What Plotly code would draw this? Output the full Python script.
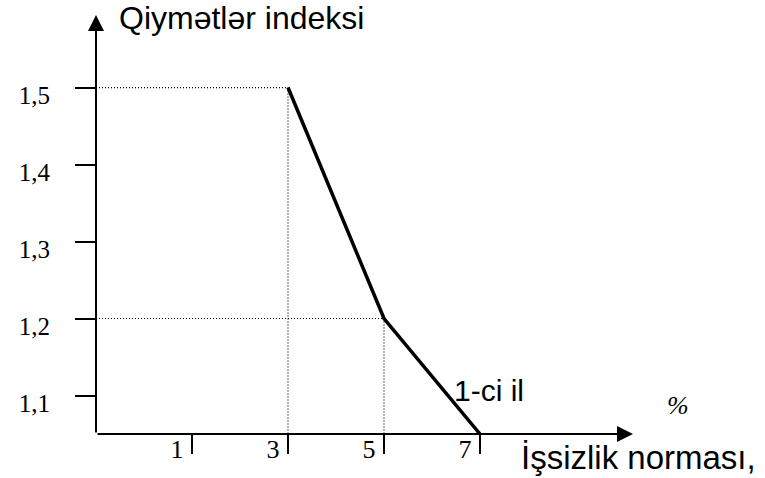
import plotly.graph_objects as go

# Phillips-type curve: price index vs unemployment rate, first year
unemployment = [3, 5, 7]          # %
price_index = [1.5, 1.2, 1.05]
curve_label = "1-ci il"

x_ticks = [1, 3, 5, 7]
y_ticks = [1.1, 1.2, 1.3, 1.4, 1.5]
y_tick_text = ["1,1", "1,2", "1,3", "1,4", "1,5"]

x_range = [-1, 10.1875]
y_range = [1.05, 1.5942]

SERIF = "Liberation Serif, Times New Roman, serif"
SANS = "Liberation Sans, Arial, sans-serif"

fig = go.Figure()

# dotted guides from the two upper points down to the axes
for xv, yv in zip(unemployment[:2], price_index[:2]):
    fig.add_trace(go.Scatter(
        x=[x_range[0], xv, xv], y=[yv, yv, y_range[0]],
        mode="lines", line=dict(color="black", width=1.2, dash="1px,2px"),
        hoverinfo="skip", showlegend=False,
    ))

# the curve itself
fig.add_trace(go.Scatter(
    x=unemployment, y=price_index, mode="lines",
    line=dict(color="black", width=3.5), showlegend=False,
))

# axes with arrowheads
arrow_style = dict(text="", showarrow=True, arrowhead=2, arrowsize=1.6,
                   arrowwidth=2, arrowcolor="black", xref="x", yref="y",
                   axref="x", ayref="y")
fig.add_annotation(x=x_range[1], y=y_range[0], ax=x_range[0], ay=y_range[0], **arrow_style)
fig.add_annotation(x=x_range[0], y=y_range[1], ax=x_range[0], ay=y_range[0], **arrow_style)

# text labels
fig.add_annotation(text="Qiymətlər indeksi", xref="paper", yref="paper",
                   x=0.0400, y=0.993, xanchor="left", yanchor="middle",
                   showarrow=False, font=dict(family=SANS, size=32, color="black"))
fig.add_annotation(text="İşsizlik norması,", xref="paper", yref="paper",
                   x=0.788, y=-0.057, xanchor="left", yanchor="middle",
                   showarrow=False, font=dict(family=SANS, size=33, color="black"))
fig.add_annotation(text="<i>%</i>", xref="paper", yref="paper",
                   x=1.083, y=0.068, xanchor="center", yanchor="middle",
                   showarrow=False, font=dict(family=SERIF, size=26, color="black"))
fig.add_annotation(text=curve_label, xref="paper", yref="paper",
                   x=0.663, y=0.103, xanchor="left", yanchor="middle",
                   showarrow=False, font=dict(family=SANS, size=30, color="black"))

fig.update_xaxes(
    range=x_range, showgrid=False, zeroline=False, showline=False,
    tickmode="array", tickvals=x_ticks, ticktext=[str(v) for v in x_ticks],
    ticks="outside", ticklen=19, tickwidth=2, tickcolor="black",
    ticklabelshift=-15, ticklabelstandoff=-27,
    tickfont=dict(family=SERIF, size=26, color="black"),
)
fig.update_yaxes(
    range=y_range, showgrid=False, zeroline=False, showline=False,
    tickmode="array", tickvals=y_ticks, ticktext=y_tick_text,
    ticks="outside", ticklen=20, tickwidth=2, tickcolor="black",
    ticklabelshift=8, ticklabelstandoff=20,
    tickfont=dict(family=SERIF, size=25, color="black"),
)

fig.update_layout(
    width=765, height=478,
    margin=dict(l=96, r=132, t=15, b=44),
    paper_bgcolor="white", plot_bgcolor="white",
    showlegend=False,
)

fig.write_html("out.html")
